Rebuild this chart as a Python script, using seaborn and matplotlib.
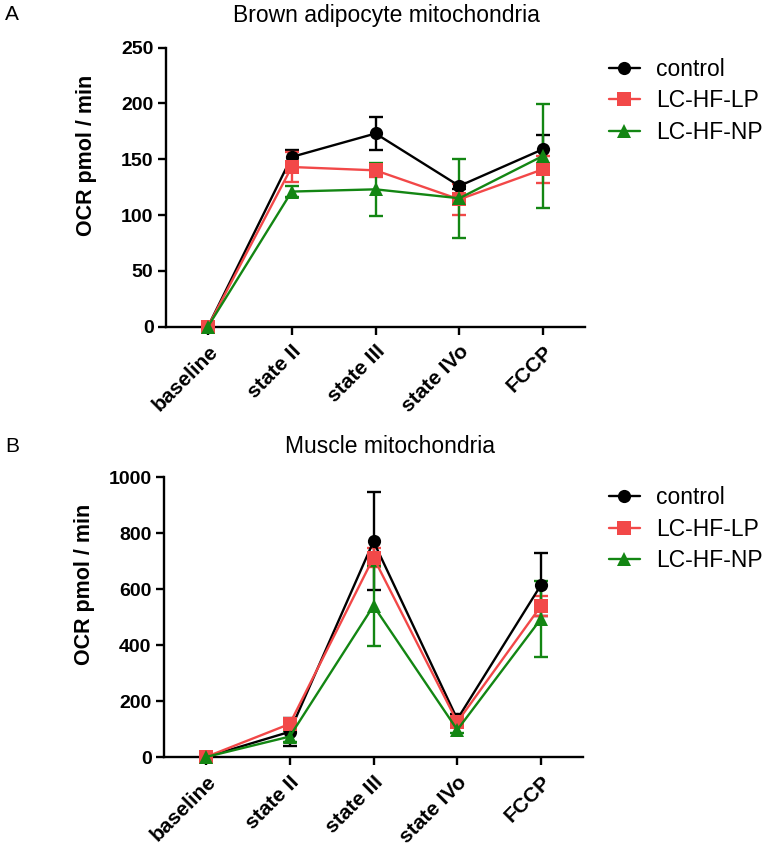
import numpy as np
import pandas as pd
import matplotlib
matplotlib.use("Agg")
import matplotlib.pyplot as plt
import seaborn as sns

sns.set_theme(style="ticks")
plt.rcParams['font.family'] = ['Liberation Sans', 'DejaVu Sans']
plt.rcParams['text.color'] = 'black'
plt.rcParams['xtick.color'] = 'black'
plt.rcParams['ytick.color'] = 'black'
plt.rcParams['axes.labelcolor'] = 'black'

categories = ["baseline", "state II", "state III", "state IVo", "FCCP"]
groups = ["control", "LC-HF-LP", "LC-HF-NP"]

# Panel A: brown adipocyte mitochondria
bat_control = [0, 152, 173, 126, 159]
bat_control_err = [0, 6.5, 14.5, 3, 13]
bat_lp = [0, 143, 140, 114, 141]
bat_lp_err = [0, 13, 6, 14, 12]
bat_np = [0, 121, 123, 115, 153]
bat_np_err = [0, 5, 23.5, 35.5, 46.5]

# Panel B: muscle mitochondria
mus_control = [0, 90, 770, 135, 615]
mus_control_err = [0, 50, 175, 20, 112]
mus_lp = [0, 118, 712, 125, 540]
mus_lp_err = [0, 15, 35, 15, 35]
mus_np = [0, 73, 540, 97, 494]
mus_np_err = [0, 20, 142, 10, 136]

palette = {"control": "#000000", "LC-HF-LP": "#F24848", "LC-HF-NP": "#138613"}
markers = {"control": "o", "LC-HF-LP": "s", "LC-HF-NP": "^"}
msizes = {"control": 9.5, "LC-HF-LP": 9.5, "LC-HF-NP": 10.5}


def make_df(vals, errs):
    rows = []
    for g, v, e in zip(groups, vals, errs):
        for i, c in enumerate(categories):
            rows.append({"group": g, "pos": i, "category": c, "value": v[i], "err": e[i]})
    return pd.DataFrame(rows)


fig = plt.figure(figsize=(7.68, 8.51), dpi=100)
W, H = 768, 851
axA = fig.add_axes([166 / W, 1 - 326.7 / H, (585 - 166) / W, (326.7 - 47.5) / H])
axB = fig.add_axes([164 / W, 1 - 757 / H, (583 - 164) / W, (757 - 477) / H])


def draw(ax, df, ymax, ystep, title, title_x, title_pad, legend_anchor):
    for g in groups:
        sub = df[df.group == g]
        ax.errorbar(sub.pos, sub.value, yerr=sub.err, fmt="none",
                    ecolor=palette[g], elinewidth=1.7, capsize=5, capthick=1.7, zorder=2)
        sns.lineplot(data=sub, x="pos", y="value", color=palette[g],
                     marker=markers[g], markersize=msizes[g],
                     markeredgewidth=0, linewidth=1.7, ax=ax, zorder=3,
                     legend=False)
    ax.set_xlim(-0.5, 4.5)
    ax.set_ylim(0, ymax)
    ax.set_yticks(np.arange(0, ymax + 1, ystep))
    ax.set_xticks(range(len(categories)))
    ax.set_xticklabels(categories, rotation=45, ha="right", rotation_mode="anchor",
                       fontsize=15, fontweight="bold")
    for lab in ax.get_yticklabels():
        lab.set_fontweight("bold")
        lab.set_fontsize(14)
    ax.set_xlabel("")
    ax.set_ylabel("OCR pmol / min", fontsize=15.5, fontweight="bold")
    ax.yaxis.set_label_coords(-0.165, 0.615)
    for s in ["top", "right"]:
        ax.spines[s].set_visible(False)
    for s in ["left", "bottom"]:
        ax.spines[s].set_linewidth(1.7)
        ax.spines[s].set_color("black")
    ax.tick_params(axis="both", width=1.7, length=6, color="black", pad=3)
    ax.tick_params(axis="x", pad=5)
    ax.set_facecolor("white")
    ax.set_title(title, fontsize=16.5, x=title_x, y=1.0, pad=title_pad)
    for line in ax.lines:
        line.set_clip_on(False)
    for coll in ax.collections:
        coll.set_clip_on(False)
    handles = []
    for g in groups:
        h, = ax.plot([], [], color=palette[g], marker=markers[g], markersize=msizes[g],
                     markeredgewidth=0, linewidth=1.7)
        handles.append(h)
    ax.legend(handles, groups, loc="upper left", bbox_to_anchor=legend_anchor,
              frameon=False, fontsize=16.5, handlelength=1.35, handletextpad=0.72,
              labelspacing=0.38, borderaxespad=0, borderpad=0)


dfA = make_df([bat_control, bat_lp, bat_np], [bat_control_err, bat_lp_err, bat_np_err])
dfB = make_df([mus_control, mus_lp, mus_np], [mus_control_err, mus_lp_err, mus_np_err])

draw(axA, dfA, 250, 50, "Brown adipocyte mitochondria", 0.525, 18.5, (1.057, 0.964))
draw(axB, dfB, 1000, 200, "Muscle mitochondria", 0.54, 17, (1.062, 0.968))

fig.text(5 / W, 1 - 15 / H, "A", fontsize=15, va="center", ha="left")
fig.text(5 / W, 1 - 446 / H, "B", fontsize=15, va="center", ha="left")

fig.savefig("out.png", dpi=100, facecolor="white")
